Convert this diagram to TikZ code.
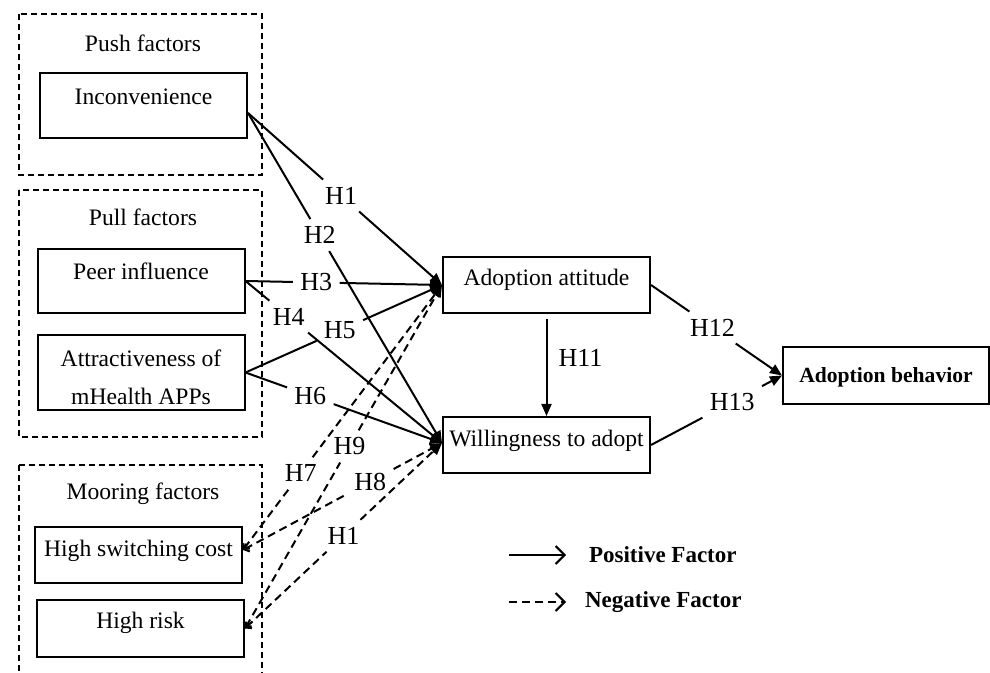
\documentclass[tikz,border=0pt]{standalone}
\usepackage{fontspec}
\setmainfont{Liberation Serif}
\usetikzlibrary{arrows.meta,calc}
\begin{document}
\begin{tikzpicture}[x=0.5pt,y=-0.5pt,
  every node/.style={font=\fontsize{11.8}{14}\selectfont},
  fbox/.style={draw, line width=1pt, inner sep=0pt, minimum width=103.5pt},
  grp/.style={draw, line width=0.7pt, dash pattern=on 3pt off 2pt},
  seg/.style={line width=1pt},
  posarr/.style={line width=1pt, -{Triangle[length=6pt,width=5pt]}},
  negseg/.style={line width=1pt, dash pattern=on 4pt off 2.5pt, {Straight Barb[length=2pt,width=4.5pt]}-},
  negarr/.style={line width=1pt, dash pattern=on 4pt off 2.5pt, -{Triangle[length=6pt,width=5pt]}},
  hl/.style={font=\fontsize{13}{15}\selectfont, inner sep=3.5pt},
  leg/.style={font=\fontsize{11.5}{14}\selectfont\bfseries, anchor=west},
]
\useasboundingbox (0,0) rectangle (990,673);
\clip (0,0) rectangle (990,673);

% group boxes
\draw[grp] (19,14) rectangle (262,175);
\draw[grp] (19,190) rectangle (262,437);
\draw[grp] (19,465) rectangle (262,700);
\node (gpush) at (143,43) {Push factors};
\node (gpull) at (143,217) {Pull factors};
\node (gmoor) at (143,494) {Mooring factors};

% boxes
\node[fbox, minimum height=32.5pt] (inc) at (143.5,105.5) {};
\node (inct) at (143.5,97) {Inconvenience};
\node[fbox, minimum height=32pt] (peer) at (141,281) {};
\node (peert) at (141,271) {Peer influence};
\node[fbox, minimum height=37.5pt] (attr) at (141,372.5) {};
\node[align=center, font=\fontsize{11.8}{19}\selectfont] (attrt) at (141,377) {Attractiveness of\\mHealth APPs};
\node[fbox, minimum height=28pt] (hsc) at (138.5,555) {};
\node (hsct) at (138.5,551) {High switching cost};
\node[fbox, minimum height=28.5pt] (hr) at (140.5,628.5) {};
\node (hrt) at (140.5,623) {High risk};
\node[fbox, minimum height=28pt] (aa) at (546.5,285) {};
\node (aat) at (546.5,280) {Adoption attitude};
\node[fbox, minimum height=28pt] (w) at (546.5,445) {};
\node (wt) at (546.5,441) {Willingness to adopt};
\node[fbox, minimum width=103pt, minimum height=28.5pt] (ab) at (886,375.5) {};
\node[font=\fontsize{10.8}{13}\selectfont\bfseries] (abt) at (886,377) {Adoption behavior};

% connection points
\coordinate (incs) at ([yshift=-3.75pt]inc.east);
\coordinate (wtg) at ([yshift=1pt]w.west);
\coordinate (hscs) at ([yshift=2.5pt]hsc.east);

% labels on lines
\node[hl] (h1) at ($(incs)!0.48!(aa.west)$) {H1};
\node[hl] (h2) at ($(incs)!0.37!(wtg)$) {H2};
\node[hl] (h3) at ($(peer.east)!0.36!(aa.west)$) {H3};
\node[hl] (h4) at ($(peer.east)!0.22!(wtg)$) {H4};
\node[hl] (h5) at ($(attr.east)!0.48!(aa.west)$) {H5};
\node[hl] (h6) at ($(attr.east)!0.33!(wtg)$) {H6};
\node[hl] (h7) at ($(hscs)!0.29!(aa.west)$) {H7};
\node[hl] (h9) at ($(hr.east)!0.53!(aa.west)$) {H9};
\node[hl] (h8) at ($(hscs)!0.64!(wtg)$) {H8};
\node[hl] (h10) at ($(hr.east)!0.5!(wtg)$) {H1};
\node[hl] (h12) at ($(aa.east)!0.47!(ab.west)$) {H12};
\node[hl] (h13) at ($(w.east)!0.62!(ab.west)$) {H13};

% positive paths
\draw[seg] (incs) -- (h1); \draw[posarr] (h1) -- (aa.west);
\draw[seg] (incs) -- (h2); \draw[posarr] (h2) -- (wtg);
\draw[seg] (peer.east) -- (h3); \draw[posarr] (h3) -- (aa.west);
\draw[seg] (peer.east) -- (h4); \draw[posarr] (h4) -- (wtg);
\draw[seg] (attr.east) -- (h5); \draw[posarr] (h5) -- (aa.west);
\draw[seg] (attr.east) -- (h6); \draw[posarr] (h6) -- (wtg);

% negative paths
\draw[negseg] (hscs) -- (h7); \draw[negarr] (h7) -- (aa.west);
\draw[negseg] (hr.east) -- (h9); \draw[negarr] (h9) -- (aa.west);
\draw[negseg] (hscs) -- (h8); \draw[negarr] (h8) -- (wtg);
\draw[negseg] (hr.east) -- (h10); \draw[negarr] (h10) -- (wtg);

% outcome paths
\draw[posarr] ([yshift=-2.5pt]aa.south) -- (w.north) node[pos=0.4, right=2pt, hl] (h11) {H11};
\draw[seg] (aa.east) -- (h12); \draw[posarr] (h12) -- (ab.west);
\draw[seg] (w.east) -- (h13); \draw[posarr] (h13) -- (ab.west);

% legend
\coordinate (lp1) at (509,555); \coordinate (lp2) at (566,555);
\coordinate (ln1) at (509,602); \coordinate (ln2) at (566,602);
\draw[line width=1pt, -{Straight Barb[length=4.5pt,width=9pt]}] (lp1) -- (lp2);
\draw[line width=1pt, dash pattern=on 4pt off 2.5pt, -{Straight Barb[length=4.5pt,width=9pt]}] (ln1) -- (ln2);
\node[leg] (lpt) at (582,555) {Positive Factor};
\node[leg] (lnt) at (578,602) {Negative Factor};
\end{tikzpicture}
\end{document}
